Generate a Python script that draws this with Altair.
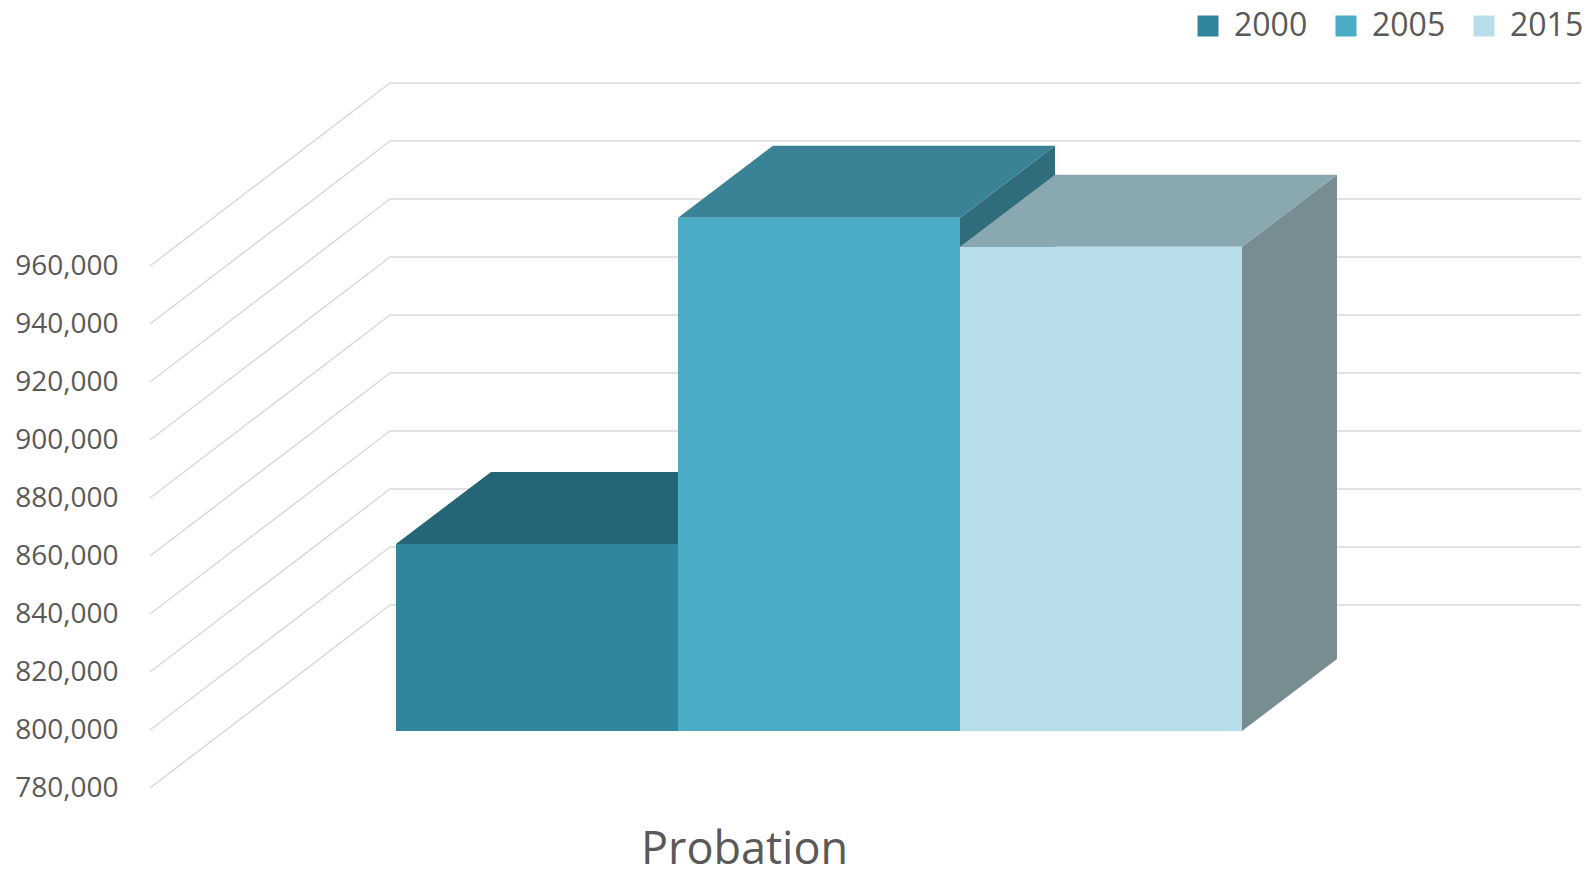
import altair as alt
import pandas as pd

# ---------------- data ----------------
years = ["2000", "2005", "2015"]
values = [844500, 957000, 947000]
category = "Probation"
tick_values = [780000, 800000, 820000, 840000, 860000, 880000, 900000, 920000, 940000, 960000]

front_colors = ["#31859C", "#4BACC6", "#B7DEE8"]
top_colors = ["#246577", "#3A8397", "#8AA8B0"]
side_colors = ["#1F5563", "#2F6D7D", "#788D92"]

# ---------------- layout (pixels) ----------------
W, H = 1593, 876
PAD_L = 150
PLOT_W = W - PAD_L
PLOT_H = 800
STEP = 20000
PX_PER_STEP = 58.0
AXIS_MIN = tick_values[0]
FLOOR_FRONT_Y = 788     # pixel row of axis minimum on the front edge
BAR_PLANE_DY = 57       # bar front plane is raised this much
BACK_DX, BACK_DY = 240, 183
BAR_LEFT, BAR_W = 246, 282
DEPTH_DX, DEPTH_DY = 95, 72
WALL_RIGHT = 1431

vpp = STEP / PX_PER_STEP
y_top_val = AXIS_MIN + FLOOR_FRONT_Y * vpp
y_bot_val = AXIS_MIN - (PLOT_H - FLOOR_FRONT_Y) * vpp
back_v = BACK_DY * vpp
plane_v = BAR_PLANE_DY * vpp
depth_v = DEPTH_DY * vpp

# gridlines
diag = pd.DataFrame({
    "x": [0] * len(tick_values),
    "x2": [BACK_DX] * len(tick_values),
    "y": tick_values,
    "y2": [t + back_v for t in tick_values],
})
back = pd.DataFrame({
    "x": [BACK_DX] * len(tick_values),
    "x2": [WALL_RIGHT] * len(tick_values),
    "y": [t + back_v for t in tick_values],
    "y2": [t + back_v for t in tick_values],
})

front_rows, top_rows, side_rows = [], [], []
for i, (yr, v) in enumerate(zip(years, values)):
    x0 = BAR_LEFT + i * BAR_W
    x1 = x0 + BAR_W
    base = AXIS_MIN + plane_v
    top = v + plane_v
    front_rows.append({"year": yr, "x": x0, "x2": x1, "y": base, "y2": top})
    top_rows.append({"year": yr, "fill": top_colors[i], "y": top, "x": x0, "x2": x1})
    top_rows.append({"year": yr, "fill": top_colors[i], "y": top + depth_v, "x": x0 + DEPTH_DX, "x2": x1 + DEPTH_DX})
    side_rows.append({"year": yr, "fill": side_colors[i], "x": x1, "y": base, "y2": top})
    side_rows.append({"year": yr, "fill": side_colors[i], "x": x1 + DEPTH_DX, "y": base + depth_v, "y2": top + depth_v})

front = pd.DataFrame(front_rows)
tops = pd.DataFrame(top_rows)
sides = pd.DataFrame(side_rows)

xs = alt.Scale(domain=[0, PLOT_W], nice=False, zero=False)
ys = alt.Scale(domain=[y_bot_val, y_top_val], nice=False, zero=False)

x_axis = alt.Axis(
    title=category, labels=False, ticks=False, domain=False, grid=False,
    titleFont="Open Sans", titleFontSize=45, titleFontWeight="normal", titleColor="#595959",
    titleX=594, titleY=63, titleAlign="center", titleBaseline="alphabetic",
)
y_axis = alt.Axis(
    title=None, values=tick_values, format=",.0f", labels=True, ticks=False, domain=False, grid=False,
    labelFont="Open Sans", labelFontSize=28, labelColor="#595959", labelPadding=32,
)

grid_style = dict(color="#D9D9D9", strokeWidth=1.5)

diag_layer = alt.Chart(diag).mark_rule(**grid_style).encode(
    x=alt.X("x:Q", scale=xs, axis=x_axis), x2="x2:Q",
    y=alt.Y("y:Q", scale=ys, axis=y_axis), y2="y2:Q",
)
back_layer = alt.Chart(back).mark_rule(**grid_style).encode(
    x=alt.X("x:Q", scale=xs, axis=x_axis), x2="x2:Q",
    y=alt.Y("y:Q", scale=ys, axis=y_axis), y2="y2:Q",
)

side_layer = alt.Chart(sides).mark_area(orient="vertical", interpolate="linear", opacity=1).encode(
    x=alt.X("x:Q", scale=xs, axis=x_axis),
    y=alt.Y("y:Q", scale=ys, stack=None, axis=y_axis), y2="y2:Q",
    color=alt.Color("fill:N", scale=None),
    detail="year:N",
)
top_layer = alt.Chart(tops).mark_area(orient="horizontal", interpolate="linear", opacity=1).encode(
    y=alt.Y("y:Q", scale=ys, axis=y_axis),
    x=alt.X("x:Q", scale=xs, stack=None, axis=x_axis), x2="x2:Q",
    color=alt.Color("fill:N", scale=None),
    detail="year:N",
)
front_layer = alt.Chart(front).mark_rect(strokeWidth=0).encode(
    x=alt.X("x:Q", scale=xs, axis=x_axis), x2="x2:Q",
    y=alt.Y("y:Q", scale=ys, axis=y_axis), y2="y2:Q",
    color=alt.Color(
        "year:N",
        scale=alt.Scale(domain=years, range=front_colors),
        legend=alt.Legend(
            title=None, orient="none", legendX=1042, legendY=10, direction="horizontal",
            symbolType="square", symbolSize=441, symbolStrokeWidth=0, symbolOpacity=1,
            labelFont="Open Sans", labelFontSize=32, labelColor="#595959",
            labelOffset=10, columnPadding=22, padding=0,
        ),
    ),
)

chart = alt.layer(diag_layer, back_layer, side_layer, top_layer, front_layer).properties(
    width=PLOT_W, height=PLOT_H,
    padding={"left": PAD_L, "top": 0, "right": 0, "bottom": H - PLOT_H},
    autosize=alt.AutoSizeParams(type="none"),
    background="white",
).configure_view(strokeWidth=0, stroke="transparent")

chart.save("out.html", embed_options={"renderer": "svg", "actions": False})
